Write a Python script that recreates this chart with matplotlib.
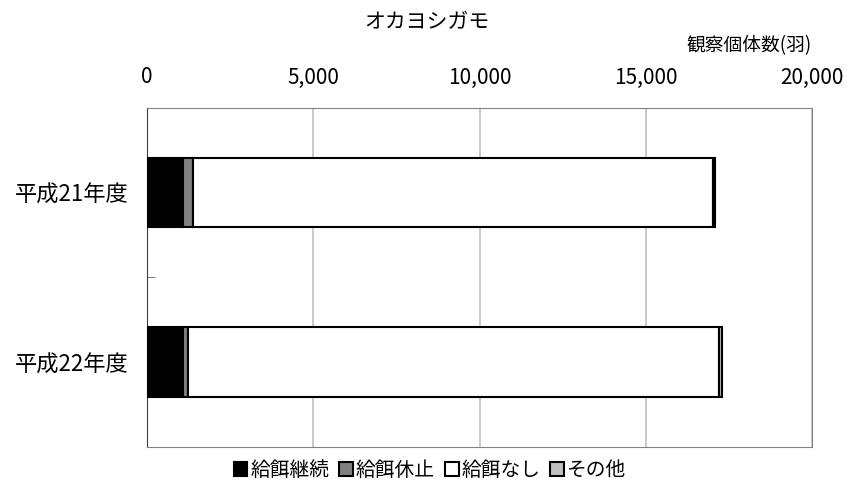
import matplotlib.pyplot as plt
import numpy as np

plt.rcParams['font.family'] = ['Noto Sans CJK JP', 'DejaVu Sans']

years = ['平成21年度', '平成22年度']
series_names = ['給餌継続', '給餌休止', '給餌なし', 'その他']
kyuji_keizoku = [1080, 1080]
kyuji_kyushi = [300, 160]
kyuji_nashi = [15630, 15950]
sonota = [60, 110]
colors = ['#000000', '#808080', '#ffffff', '#c0c0c0']

fig = plt.figure(figsize=(8.67, 4.95), dpi=100)
ax = fig.add_axes([0.1696, 0.097, 0.767, 0.685])

y = np.arange(len(years))
left = np.zeros(len(years))
handles = []
for name, vals, c in zip(series_names, [kyuji_keizoku, kyuji_kyushi, kyuji_nashi, sonota], colors):
    b = ax.barh(y, vals, left=left, height=0.41, color=c, edgecolor='black',
                linewidth=1.5, label=name, zorder=3)
    left += np.array(vals)
    handles.append(b)

ax.set_xlim(0, 20000)
ax.set_ylim(1.5, -0.5)
ax.xaxis.tick_top()
ax.set_xticks([0, 5000, 10000, 15000, 20000])
ax.set_xticklabels(['0', '5,000', '10,000', '15,000', '20,000'], fontsize=15)
ax.tick_params(axis='x', length=0, pad=14)
ax.set_yticks(y)
ax.set_yticklabels(years, fontsize=16)
ax.set_yticks([0.5], minor=True)
ax.tick_params(axis='y', which='major', length=0, pad=13)
ax.tick_params(axis='y', which='minor', length=6, direction='in', color='#606060')
ax.grid(axis='x', color='#c0c0c0', linewidth=1.2, zorder=0)
for s in ['top', 'right', 'bottom']:
    ax.spines[s].set_color('#808080')
ax.spines['left'].set_color('#404040')

fig.text(0.4925, 0.955, 'オカヨシガモ', ha='center', va='center', fontsize=15)
fig.text(0.9366, 0.908, '観察個体数(羽)', ha='right', va='center', fontsize=13.5)

fig.legend(handles=handles, labels=series_names, loc='center', bbox_to_anchor=(0.496, 0.05),
           ncol=4, frameon=False, fontsize=14.2, handlelength=0.7, handleheight=0.7,
           handletextpad=0.15, columnspacing=0.5)

fig.savefig('out.png', dpi=100)
